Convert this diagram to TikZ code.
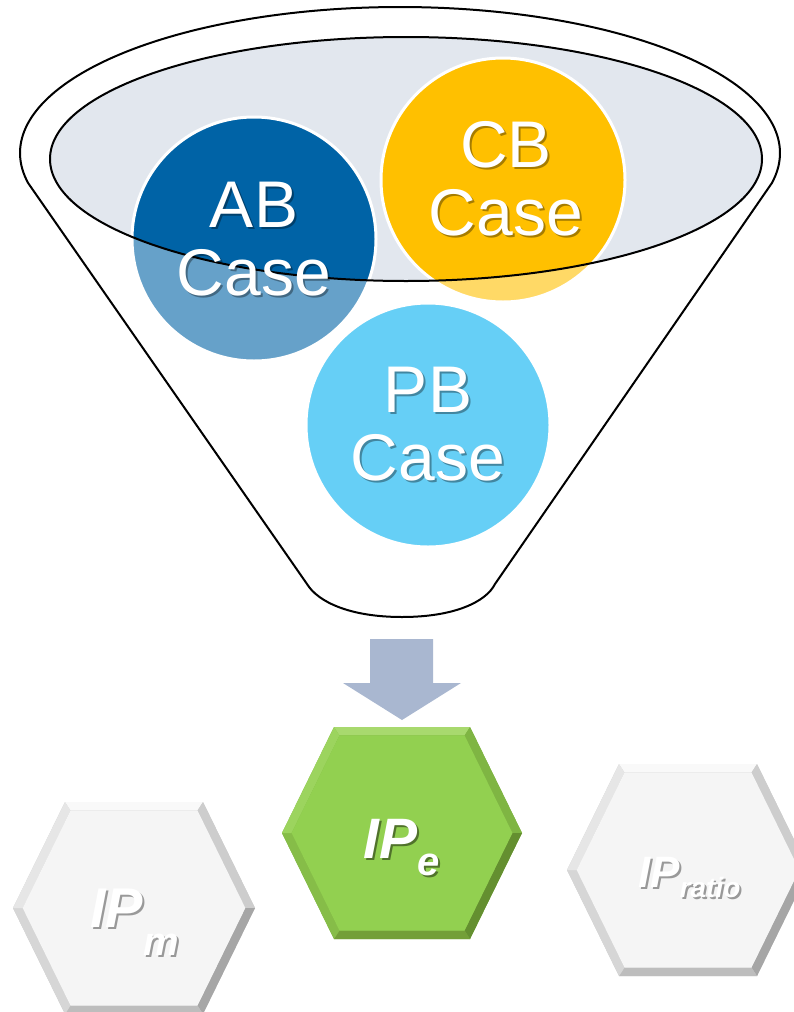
\documentclass[tikz,border=0pt]{standalone}
\usepackage{fontspec}
\setmainfont{Liberation Sans}
\usetikzlibrary{calc}
\definecolor{ellfill}{HTML}{E2E7EE}
\definecolor{abblue}{HTML}{0063A6}
\definecolor{cbyellow}{HTML}{FFC000}
\definecolor{pbblue}{HTML}{00B0F0}
\definecolor{arrowc}{HTML}{A9B7D0}
% green hexagon
\definecolor{gF}{HTML}{92D050}
\definecolor{gT}{HTML}{A8D96E}
\definecolor{gTL}{HTML}{9CD45E}
\definecolor{gTR}{HTML}{7FB543}
\definecolor{gBR}{HTML}{648F30}
\definecolor{gB}{HTML}{739F38}
\definecolor{gBL}{HTML}{86BD48}
% white hexagons
\definecolor{wF}{HTML}{F5F5F5}
\definecolor{wT}{HTML}{F9F9F9}
\definecolor{wTL}{HTML}{E6E6E6}
\definecolor{wTR}{HTML}{CDCDCD}
\definecolor{wBR}{HTML}{A6A6A6}
\definecolor{wB}{HTML}{BDBDBD}
\definecolor{wBL}{HTML}{D6D6D6}
\newcommand\hexbev[7]{%
  \coordinate (#1) at (#2,#3);
  \coordinate (#1v1) at (#2-#5,#3-#6);
  \coordinate (#1v2) at (#2+#5,#3-#6);
  \coordinate (#1v3) at (#2+#4,#3);
  \coordinate (#1v4) at (#2+#5,#3+#6);
  \coordinate (#1v5) at (#2-#5,#3+#6);
  \coordinate (#1v6) at (#2-#4,#3);
  \coordinate (#1i1) at ($(#1)!0.92!(#1v1)$);
  \coordinate (#1i2) at ($(#1)!0.92!(#1v2)$);
  \coordinate (#1i3) at ($(#1)!0.92!(#1v3)$);
  \coordinate (#1i4) at ($(#1)!0.92!(#1v4)$);
  \coordinate (#1i5) at ($(#1)!0.92!(#1v5)$);
  \coordinate (#1i6) at ($(#1)!0.92!(#1v6)$);
  \fill[#7TR] (#1v1)--(#1v2)--(#1v3)--(#1v4)--(#1v5)--(#1v6)--cycle;
  \fill[#7T] (#1v1)--(#1v2)--(#1i2)--(#1i1)--cycle;
  \fill[#7TR] (#1v2)--(#1v3)--(#1i3)--(#1i2)--cycle;
  \fill[#7BR] (#1v3)--(#1v4)--(#1i4)--(#1i3)--cycle;
  \fill[#7B] (#1v4)--(#1v5)--(#1i5)--(#1i4)--cycle;
  \fill[#7BL] (#1v5)--(#1v6)--(#1i6)--(#1i5)--cycle;
  \fill[#7TL] (#1v6)--(#1v1)--(#1i1)--(#1i6)--cycle;
  \fill[#7F] (#1i1)--(#1i2)--(#1i3)--(#1i4)--(#1i5)--(#1i6)--cycle;
}
\tikzset{
  casecircle/.style={circle, minimum size=244pt, inner sep=0pt, draw=white, line width=3pt},
  casetext/.style={align=center, text=white, inner sep=0pt, font=\fontsize{66}{68}\selectfont},
  caseshadow/.style={casetext, text=black, opacity=0.35, xshift=2pt, yshift=-2pt},
  hextext/.style={inner sep=0pt, anchor=base west, text=white},
  hexshadow/.style={hextext, xshift=2pt, yshift=-2pt},
  outline/.style={draw=black, line width=2pt, line join=round}
}
\begin{document}
\begin{tikzpicture}[x=1pt,y=-1pt]
\useasboundingbox (0,0) rectangle (794,1012);
\clip (0,0) rectangle (794,1012);
% inner ellipse fill
\fill[ellfill] (406,159) ellipse [x radius=356pt, y radius=122pt];
% case circles
\node[casecircle, fill=abblue] (ab) at (254,239) {};
\node[casecircle, fill=cbyellow] (cb) at (503,180) {};
\node[casecircle, fill=pbblue] (pb) at (428,425) {};
% translucent front of funnel
\fill[white, opacity=0.4, even odd rule]
  plot[domain=168.1:371.9, samples=150, variable=\t] ({400+380*cos(\t)},{153+146*sin(\t)})
  -- (495,584) .. controls (486,602) and (454,617) .. (402,617)
  .. controls (350,617) and (318,602) .. (307,584) -- cycle
  (406,159) ellipse [x radius=356pt, y radius=122pt];
% funnel outlines
\draw[outline]
  plot[domain=168.1:371.9, samples=150, variable=\t] ({400+380*cos(\t)},{153+146*sin(\t)})
  -- (495,584) .. controls (486,602) and (454,617) .. (402,617)
  .. controls (350,617) and (318,602) .. (307,584) -- cycle;
\draw[outline] (406,159) ellipse [x radius=356pt, y radius=122pt];
% case labels
\node[caseshadow] at (254,239) {AB\\Case};
\node[casetext] (abt) at (254,239) {AB\\Case};
\node[caseshadow] at (506,179) {CB\\Case};
\node[casetext] (cbt) at (506,179) {CB\\Case};
\node[caseshadow] at (428,424) {PB\\Case};
\node[casetext] (pbt) at (428,424) {PB\\Case};
% block arrow
\fill[arrowc] (370,639) -- (433,639) -- (433,683) -- (461,683) -- (402,720) -- (343,683) -- (370,683) -- cycle;
% hexagons
\hexbev{hm}{134}{908}{121}{69}{106}{w}
\hexbev{he}{402}{833}{120}{68}{106}{g}
\hexbev{hr}{688}{870}{121}{69}{106}{w}
% hexagon labels
\node[hexshadow, text=black!40, font=\fontsize{56}{56}\selectfont\bfseries\itshape] at (90,927) {IP\raisebox{-28pt}{\fontsize{40}{40}\selectfont m}};
\node[hextext, font=\fontsize{56}{56}\selectfont\bfseries\itshape] (ipm) at (90,927) {IP\raisebox{-28pt}{\fontsize{40}{40}\selectfont m}};
\node[hexshadow, text=black, opacity=0.45, font=\fontsize{57}{57}\selectfont\bfseries\itshape] at (363,858) {IP\raisebox{-17pt}{\fontsize{40}{40}\selectfont e}};
\node[hextext, font=\fontsize{57}{57}\selectfont\bfseries\itshape] (ipe) at (363,858) {IP\raisebox{-17pt}{\fontsize{40}{40}\selectfont e}};
\node[hexshadow, text=black!40, font=\fontsize{44}{44}\selectfont\bfseries\itshape] at (638,887) {IP\raisebox{-10pt}{\fontsize{28}{28}\selectfont ratio}};
\node[hextext, font=\fontsize{44}{44}\selectfont\bfseries\itshape] (ipr) at (638,887) {IP\raisebox{-10pt}{\fontsize{28}{28}\selectfont ratio}};
\end{tikzpicture}
\end{document}
